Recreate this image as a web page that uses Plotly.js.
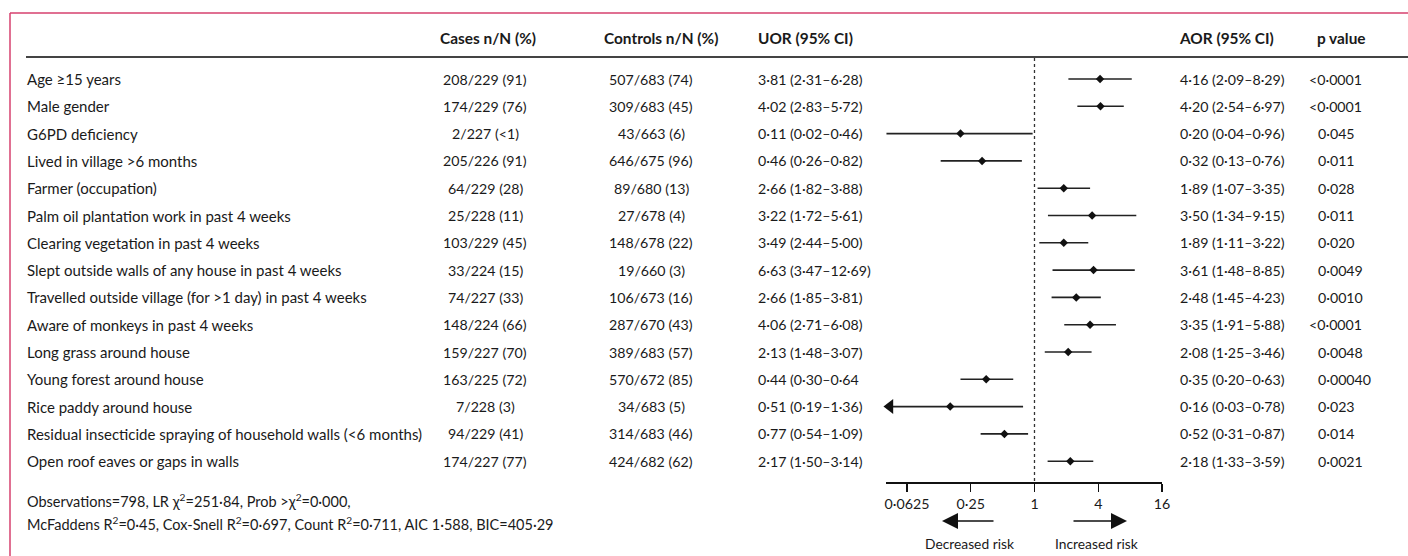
<!DOCTYPE html>
<html>
<head>
<meta charset="utf-8">
<script src="https://cdn.plot.ly/plotly-3.0.1.min.js"></script>
<style>html,body{margin:0;padding:0;background:#fff;}#chart{width:1408px;height:556px;}</style>
</head>
<body>
<div id="chart"></div>
<script>
// ---------- data ----------
const labels = [
  "Age ≥15 years",
  "Male gender",
  "G6PD deficiency",
  "Lived in village >6 months",
  "Farmer (occupation)",
  "Palm oil plantation work in past 4 weeks",
  "Clearing vegetation in past 4 weeks",
  "Slept outside walls of any house in past 4 weeks",
  "Travelled outside village (for >1 day) in past 4 weeks",
  "Aware of monkeys in past 4 weeks",
  "Long grass around house",
  "Young forest around house",
  "Rice paddy around house",
  "Residual insecticide spraying of household walls (<6 months)",
  "Open roof eaves or gaps in walls"
];
const cases = ["208/229 (91)","174/229 (76)","2/227 (<1)","205/226 (91)","64/229 (28)","25/228 (11)","103/229 (45)","33/224 (15)","74/227 (33)","148/224 (66)","159/227 (70)","163/225 (72)","7/228 (3)","94/229 (41)","174/227 (77)"];
const controls = ["507/683 (74)","309/683 (45)","43/663 (6)","646/675 (96)","89/680 (13)","27/678 (4)","148/678 (22)","19/660 (3)","106/673 (16)","287/670 (43)","389/683 (57)","570/672 (85)","34/683 (5)","314/683 (46)","424/682 (62)"];
const uor = ["3·81 (2·31–6·28)","4·02 (2·83–5·72)","0·11 (0·02–0·46)","0·46 (0·26–0·82)","2·66 (1·82–3·88)","3·22 (1·72–5·61)","3·49 (2·44–5·00)","6·63 (3·47–12·69)","2·66 (1·85–3·81)","4·06 (2·71–6·08)","2·13 (1·48–3·07)","0·44 (0·30–0·64","0·51 (0·19–1·36)","0·77 (0·54–1·09)","2·17 (1·50–3·14)"];
const aor   = [4.16,4.20,0.20,0.32,1.89,3.50,1.89,3.61,2.48,3.35,2.08,0.35,0.16,0.52,2.18];
const aorLo = [2.09,2.54,0.04,0.13,1.07,1.34,1.11,1.48,1.45,1.91,1.25,0.20,0.03,0.31,1.33];
const aorHi = [8.29,6.97,0.96,0.76,3.35,9.15,3.22,8.85,4.23,5.88,3.46,0.63,0.78,0.87,3.59];
const pvals = ["<0·0001","<0·0001","0·045","0·011","0·028","0·011","0·020","0·0049","0·0010","<0·0001","0·0048","0·00040","0·023","0·014","0·0021"];
const headers = ["Cases n/N (%)","Controls n/N (%)","UOR (95% CI)","AOR (95% CI)","p value"];
const tickVals = [0.0625,0.25,1,4,16];
const tickText = ["0·0625","0·25","1","4","16"];
const footLines = [
  "Observations=798, LR χ<sup>2</sup>=251·84, Prob >χ<sup>2</sup>=0·000,",
  "McFaddens R<sup>2</sup>=0·45, Cox-Snell R<sup>2</sup>=0·697, Count R<sup>2</sup>=0·711, AIC 1·588, BIC=405·29"
];
const riskLabels = ["Decreased risk","Increased risk"];

// ---------- layout helpers ----------
const W = 1408, H = 556;
const FONT = "Lato, 'Open Sans', sans-serif";
const FS = 14.2;      // numeric columns
const FS_LAB = 15;    // row labels
const FS_HEAD = 15.4; // header
const TXT = "#1a1a1a";
const px = v => v / W;
const py = v => 1 - v / H;
const row0 = 79, rowStep = 27.3;
const yMin = (0 - row0) / rowStep, yMax = (H - row0) / rowStep;
const xMin = Math.log10(0.0396), xMax = Math.log10(16);
const fmt = v => v.toFixed(2).replace('.', '·');
const rows = labels.map((_, i) => i);

const ann = [];
function addText(text, x, y, anchor, size) {
  ann.push({
    text: text, x: x, y: y, xref: 'paper', yref: 'y', xanchor: anchor, yanchor: 'middle',
    showarrow: false, font: {family: FONT, size: size || FS, color: TXT}, borderpad: 0
  });
}
rows.forEach(i => {
  addText(labels[i], px(26), i, 'left', FS_LAB);
  addText(cases[i], px(485), i, 'center');
  addText(controls[i], px(651), i, 'center');
  addText(uor[i], px(757), i, 'left');
  addText(fmt(aor[i]) + " (" + fmt(aorLo[i]) + "–" + fmt(aorHi[i]) + ")", px(1179), i, 'left');
  const isLt = pvals[i].charAt(0) === '<';
  addText(pvals[i], px(isLt ? 1308 : 1317), i, 'left');
});
const headerX = [439, 603, 757, 1178, 1316];
headers.forEach((h, k) => {
  ann.push({text: '<b>' + h + '</b>', x: px(headerX[k]), y: py(38), xref: 'paper', yref: 'paper',
    xanchor: 'left', yanchor: 'middle', showarrow: false, borderpad: 0,
    font: {family: FONT, size: FS_HEAD, color: TXT}});
});
footLines.forEach((t, k) => {
  ann.push({text: t, x: px(26), y: py([500, 523][k]), xref: 'paper', yref: 'paper',
    xanchor: 'left', yanchor: 'middle', showarrow: false, borderpad: 0,
    font: {family: FONT, size: 14.5, color: TXT}});
});
// direction arrows
ann.push({x: px(942), y: py(521), xref: 'paper', yref: 'paper', ax: 53, ay: 0, text: '',
  showarrow: true, arrowhead: 2, arrowsize: 2, arrowwidth: 1.6, arrowcolor: '#111'});
ann.push({x: px(1127), y: py(521), xref: 'paper', yref: 'paper', ax: -55, ay: 0, text: '',
  showarrow: true, arrowhead: 2, arrowsize: 2, arrowwidth: 1.6, arrowcolor: '#111'});
[[969.5, riskLabels[0]], [1096, riskLabels[1]]].forEach(d => {
  ann.push({text: d[1], x: px(d[0]), y: py(543), xref: 'paper', yref: 'paper',
    xanchor: 'center', yanchor: 'middle', showarrow: false, borderpad: 0,
    font: {family: FONT, size: 13.8, color: TXT}});
});

// ---------- traces ----------
const main = {
  type: 'scatter', mode: 'markers', x: aor, y: rows,
  marker: {symbol: 'diamond', size: 6.5, color: '#111'},
  error_x: {type: 'data', symmetric: false,
    array: aor.map((v, i) => aorHi[i] - v),
    arrayminus: aor.map((v, i) => v - aorLo[i]),
    width: 0, thickness: 1.6, color: '#222'},
  hoverinfo: 'skip', cliponaxis: true
};
const truncRows = rows.filter(i => Math.log10(aorLo[i]) < xMin - 0.01);
const trunc = {
  type: 'scatter', mode: 'markers',
  x: truncRows.map(() => Math.pow(10, xMin) * 1.09), y: truncRows,
  marker: {symbol: 'triangle-left', size: 13, color: '#111'},
  hoverinfo: 'skip', cliponaxis: false
};

const layout = {
  width: W, height: H, margin: {l: 0, r: 0, t: 0, b: 0},
  paper_bgcolor: '#fff', plot_bgcolor: 'rgba(0,0,0,0)', showlegend: false,
  xaxis: {type: 'log', domain: [px(886), px(1162)], range: [xMin, xMax],
    tickvals: tickVals, ticktext: tickText, ticks: 'outside', ticklen: 8, tickwidth: 1.5,
    tickcolor: '#111', showline: true, linecolor: '#111', linewidth: 1.6,
    showgrid: false, zeroline: false, anchor: 'free', position: py(482), side: 'bottom',
    tickfont: {family: FONT, size: FS, color: TXT}, fixedrange: true},
  yaxis: {domain: [0, 1], range: [yMax, yMin], visible: false, fixedrange: true},
  annotations: ann,
  shapes: [
    // frame
    {type: 'line', xref: 'paper', yref: 'paper', x0: px(10), x1: 1, y0: py(13), y1: py(13), line: {color: '#d6406e', width: 1.5}},
    {type: 'line', xref: 'paper', yref: 'paper', x0: px(10), x1: px(10), y0: py(13), y1: 0, line: {color: '#d6406e', width: 1.5}},
    // header rule
    {type: 'line', xref: 'paper', yref: 'paper', x0: px(26), x1: 1, y0: py(57), y1: py(57), line: {color: '#444', width: 2}},
    // reference line at OR = 1
    {type: 'line', xref: 'x', yref: 'paper', x0: 1, x1: 1, y0: py(58), y1: py(482), line: {color: '#333', width: 1.3, dash: '3px,3px'}}
  ]
};
Plotly.newPlot('chart', [main, trunc], layout, {displayModeBar: false, staticPlot: true});
</script>
</body>
</html>
